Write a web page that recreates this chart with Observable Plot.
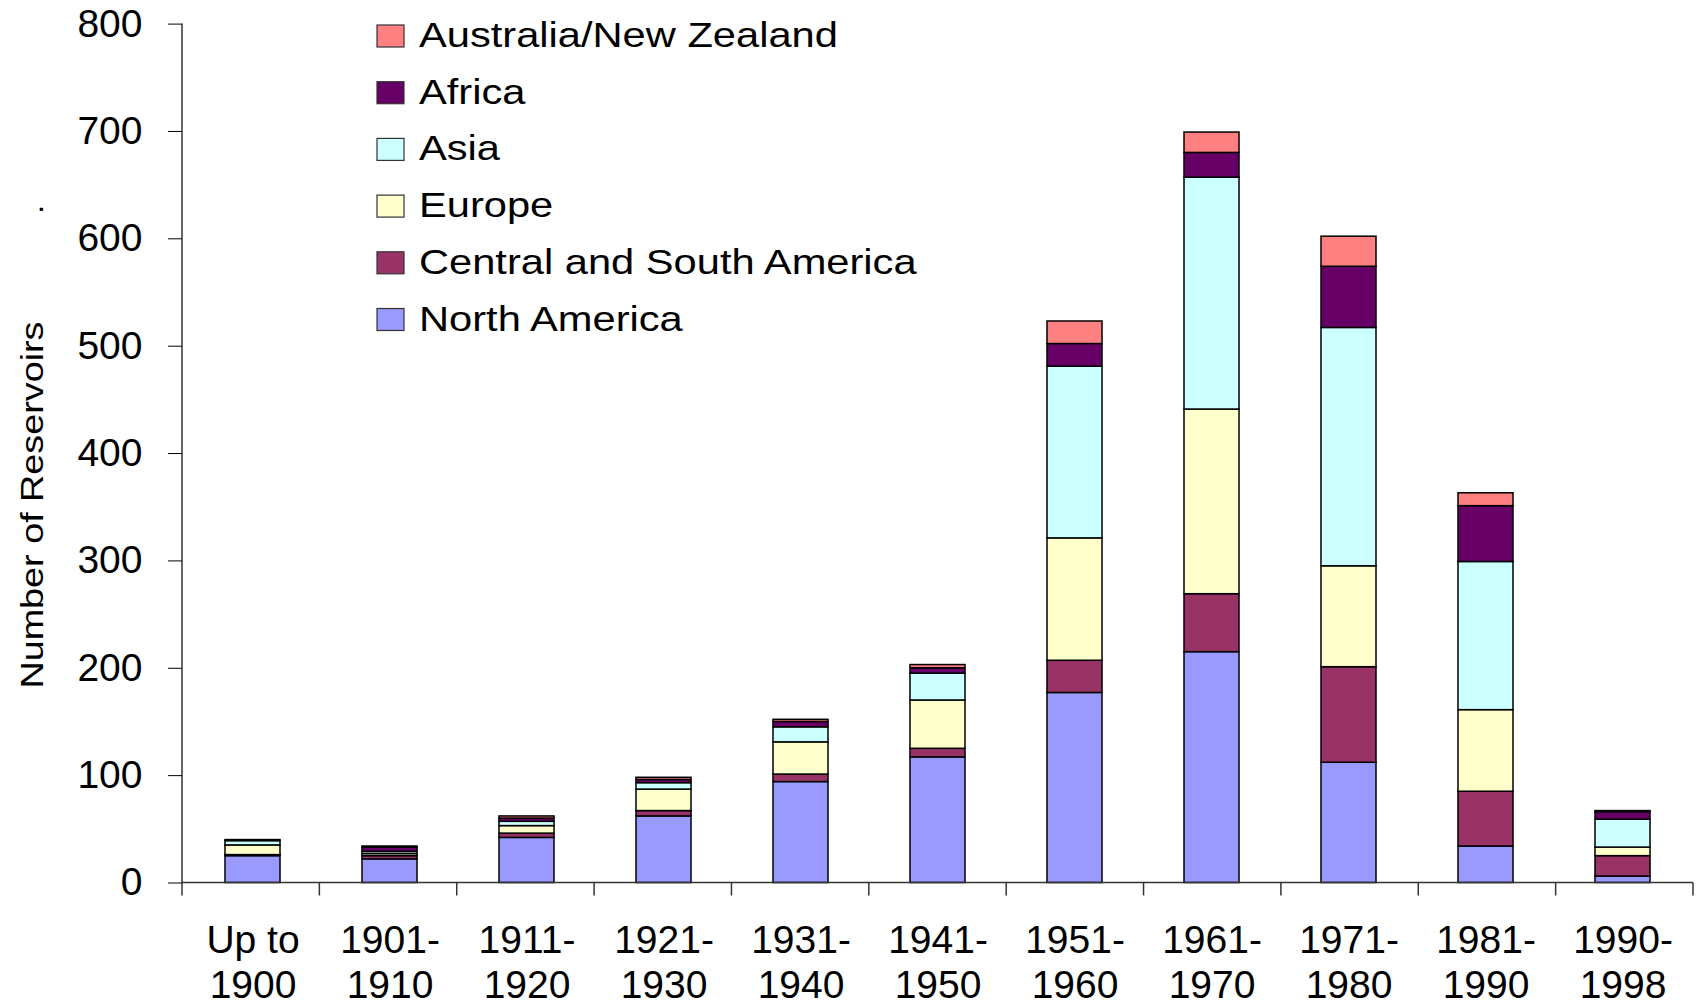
<!DOCTYPE html>
<html>
<head>
<meta charset="utf-8">
<script src="https://cdn.jsdelivr.net/npm/d3@7"></script>
<script src="https://cdn.jsdelivr.net/npm/@observablehq/plot@0.6"></script>
<style>
  html, body { margin: 0; padding: 0; background: #fff; }
  svg { display: block; }
</style>
</head>
<body>
<div id="chart"></div>
<script>
// ---- Data ----
const categories = ["Up to 1900", "1901-1910", "1911-1920", "1921-1930", "1931-1940", "1941-1950",
                    "1951-1960", "1961-1970", "1971-1980", "1981-1990", "1990-1998"];
const tickLabels = ["Up to\n1900", "1901-\n1910", "1911-\n1920", "1921-\n1930", "1931-\n1940", "1941-\n1950",
                    "1951-\n1960", "1961-\n1970", "1971-\n1980", "1981-\n1990", "1990-\n1998"];
const seriesNames = ["North America", "Central and South America", "Europe", "Asia", "Africa", "Australia/New Zealand"];
const seriesColors = ["#9999FF", "#993366", "#FFFFCC", "#CCFFFF", "#660066", "#FF8080"];

const northAmerica        = [25, 22, 42, 62, 94, 117, 177, 215, 112, 34, 6];
const centralSouthAmerica = [1, 3, 4, 5, 7, 8, 30, 54, 89, 51, 19];
const europe              = [9, 2, 7, 20, 30, 45, 114, 172, 94, 76, 8];
const asia                = [4, 2, 4, 6, 14, 25, 160, 216, 222, 138, 26];
const africa              = [1, 4, 3, 3, 5, 5, 21, 23, 57, 52, 7];
const ausNZ               = [0, 1, 2, 2, 2, 3, 21, 19, 28, 12, 1];

const yTicks = [0, 100, 200, 300, 400, 500, 600, 700, 800];
const yLabel = "Number of Reservoirs";

// ---- Tidy table built from the arrays ----
const seriesValues = [northAmerica, centralSouthAmerica, europe, asia, africa, ausNZ];
const data = [];
seriesNames.forEach((s, i) => categories.forEach((c, j) => data.push({category: c, series: s, value: seriesValues[i][j]})));

const FONT = "'Liberation Sans', Arial, Helvetica, sans-serif";
const colorOf = s => seriesColors[seriesNames.indexOf(s)];

// axis lines and category-boundary ticks
function axisLines(index, scales, values, dims) {
  const g = d3.create("svg:g").attr("stroke", "#333").attr("stroke-width", 1.5).attr("fill", "none");
  const l = dims.marginLeft, r = dims.width - dims.marginRight;
  const y0 = scales.y(0), yT = scales.y(d3.max(yTicks));
  g.append("line").attr("x1", l).attr("x2", l).attr("y1", yT).attr("y2", y0);
  g.append("line").attr("x1", l).attr("x2", r).attr("y1", y0).attr("y2", y0);
  const n = categories.length, step = (r - l) / n;
  for (let i = 0; i <= n; i++) {
    g.append("line").attr("x1", l + i * step).attr("x2", l + i * step).attr("y1", y0).attr("y2", y0 + 13);
  }
  return g.node();
}

// rotated y title (plus the stray dot seen in the original)
function yTitle(index, scales, values, dims) {
  const g = d3.create("svg:g").attr("font-family", FONT).attr("fill", "#000").attr("font-size", 32);
  const cx = dims.marginLeft - 139;
  const cy = (scales.y(0) + scales.y(d3.max(yTicks))) / 2 + 52;
  g.append("text")
    .attr("transform", `translate(${cx},${cy}) rotate(-90) scale(1.18,1)`)
    .attr("text-anchor", "middle")
    .text(yLabel);
  g.append("text")
    .attr("transform", `translate(${cx},${scales.y(627)}) rotate(-90)`)
    .attr("text-anchor", "middle")
    .text(".");
  return g.node();
}

// legend inside the plot area
function legend(index, scales, values, dims) {
  const g = d3.create("svg:g").attr("font-family", FONT).attr("text-anchor", "start");
  const order = seriesNames.slice().reverse();
  const x0 = 377, y0 = 36, gap = 56.7;
  order.forEach((s, i) => {
    const cy = y0 + i * gap;
    g.append("rect").attr("x", x0).attr("y", cy - 11).attr("width", 27).attr("height", 22)
      .attr("fill", colorOf(s)).attr("stroke", "#333").attr("stroke-width", 1.2);
    g.append("text").attr("transform", `translate(${x0 + 42},${cy + 11}) scale(1.19,1)`)
      .attr("text-anchor", "start")
      .attr("font-size", 35).attr("fill", "#000").text(s);
  });
  return g.node();
}

const chart = Plot.plot({
  width: 1697,
  height: 1000,
  marginLeft: 182,
  marginRight: 4,
  marginTop: 23.6,
  marginBottom: 117.5,
  style: {fontFamily: FONT, fontSize: "39px", color: "#000", background: "#fff", overflow: "visible"},
  x: {domain: categories, paddingInner: 0.6, paddingOuter: 0.3, label: null},
  y: {domain: [0, 800], label: null},
  color: {domain: seriesNames, range: seriesColors},
  marks: [
    Plot.barY(data, {x: "category", y: "value", fill: "series", z: "series", order: seriesNames,
                     stroke: "#000", strokeWidth: 1.5}),
    axisLines,
    Plot.axisY({ticks: yTicks, tickSize: 14, tickPadding: 26, fontSize: 39, label: null}),
    Plot.axisX({tickSize: 0, tickPadding: 38, fontSize: 39, lineHeight: 1.15, label: null,
                tickFormat: d => tickLabels[categories.indexOf(d)]}),
    yTitle,
    legend
  ]
});
document.getElementById("chart").appendChild(chart);
</script>
</body>
</html>
